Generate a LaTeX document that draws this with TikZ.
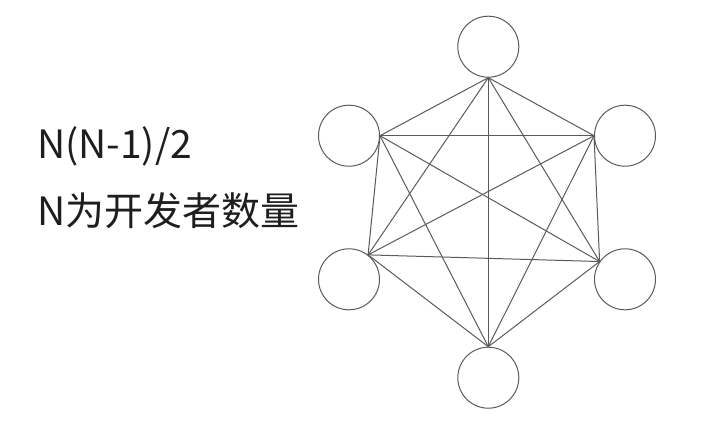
\documentclass[tikz,border=0pt]{standalone}
\usepackage{fontspec}
\usepackage{tikz}
\newfontfamily\cjk{Noto Sans CJK SC}
\definecolor{edgegray}{HTML}{5A5A5A}
\definecolor{textdark}{HTML}{1E1E1E}

\tikzset{
    dev/.style={draw=edgegray, circle, minimum size=61pt, inner sep=0pt, line width=1pt},
    link/.style={edgegray, line width=1pt},
    caption/.style={anchor=base west, inner sep=0pt, text=textdark, font=\cjk\fontsize{39}{46}\selectfont}
}

\begin{document}
\begin{tikzpicture}[x=1pt, y=-1pt]
            \useasboundingbox (0,0) rectangle (702,421);

            \node[caption] (formula) at (37,158) {N(N-1)/2};
            \node[caption] (meaning) at (37,225.5) {N为开发者数量};

            \node[dev] (top) at (488.3,46.7) {};
            \node[dev] (upleft) at (349,135.7) {};
            \node[dev] (upright) at (625,135.7) {};
            \node[dev] (lowleft) at (349,279.3) {};
            \node[dev] (lowright) at (625,279.3) {};
            \node[dev] (bottom) at (488.3,377.7) {};

            \draw[link] (top.south) -- (upleft.east);
            \draw[link] (top.south) -- (upright.west);
            \draw[link] (top.south) -- (lowleft.52);
            \draw[link] (top.south) -- (lowright.145);
            \draw[link] (top.south) -- (bottom.north);

            \draw[link] (upleft.east) -- (upright.west);
            \draw[link] (upleft.east) -- (lowleft.52);
            \draw[link] (upleft.east) -- (lowright.145);
            \draw[link] (upleft.east) -- (bottom.north);

            \draw[link] (upright.west) -- (lowleft.52);
            \draw[link] (upright.west) -- (lowright.145);
            \draw[link] (upright.west) -- (bottom.north);

            \draw[link] (lowleft.52) -- (lowright.145);
            \draw[link] (lowleft.52) -- (bottom.north);

            \draw[link] (lowright.145) -- (bottom.north);
        \end{tikzpicture}
\end{document}
